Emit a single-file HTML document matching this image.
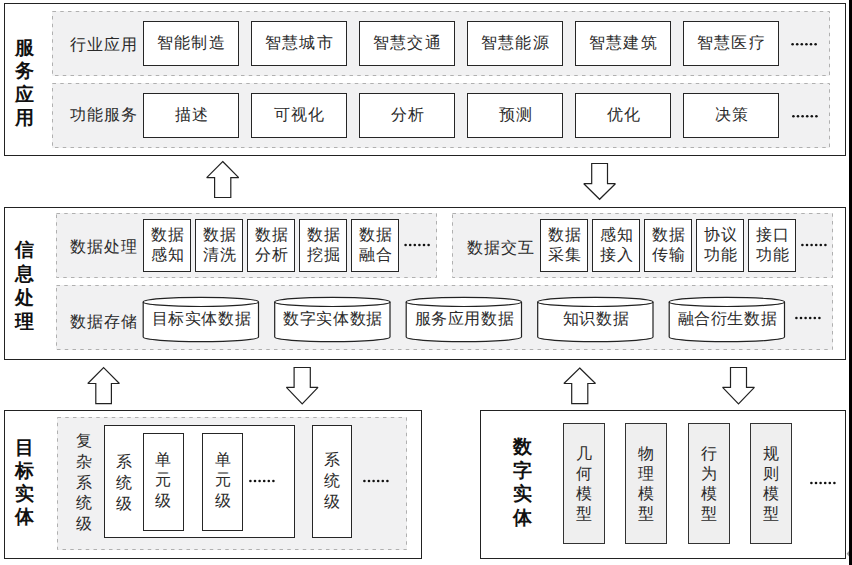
<!DOCTYPE html><html><head><meta charset="utf-8"><style>
*{margin:0;padding:0;box-sizing:border-box}
html,body{width:852px;height:565px;overflow:hidden;background:#fff}
body{position:relative;font-family:"Liberation Sans",sans-serif;color:#2a2a2a}
div{position:absolute}
.ob{border:1px solid #222;background:#fff}
.fill{background:#f1f1f2}
.wb{border:1px solid #262626;background:#fff}
.gb{border:1px solid #333;background:#efefef}
.t{display:flex;align-items:center;justify-content:center;font-size:16px;line-height:20px;text-align:center;white-space:nowrap;letter-spacing:1px;padding-left:1px}
.vc{font-size:16px;line-height:16px;text-align:center}
.lb{font-size:19px;line-height:19px;font-weight:bold;color:#111;text-align:center}
.dot{background:#111;border-radius:0.6px}
svg{position:absolute;left:0;top:0}
</style></head><body>
<div class="ob" style="left:4px;top:3px;width:842px;height:153px"></div>
<div class="fill" style="left:52px;top:11px;width:778px;height:65px"></div>
<div class="fill" style="left:52px;top:83px;width:778px;height:65px"></div>
<div class="wb" style="left:143px;top:21px;width:96px;height:45px"></div>
<div class="wb" style="left:143px;top:93px;width:96px;height:45px"></div>
<div class="wb" style="left:251px;top:21px;width:96px;height:45px"></div>
<div class="wb" style="left:251px;top:93px;width:96px;height:45px"></div>
<div class="wb" style="left:359px;top:21px;width:96px;height:45px"></div>
<div class="wb" style="left:359px;top:93px;width:96px;height:45px"></div>
<div class="wb" style="left:467px;top:21px;width:96px;height:45px"></div>
<div class="wb" style="left:467px;top:93px;width:96px;height:45px"></div>
<div class="wb" style="left:575px;top:21px;width:96px;height:45px"></div>
<div class="wb" style="left:575px;top:93px;width:96px;height:45px"></div>
<div class="wb" style="left:683px;top:21px;width:96px;height:45px"></div>
<div class="wb" style="left:683px;top:93px;width:96px;height:45px"></div>
<div class="ob" style="left:4px;top:207px;width:842px;height:153px"></div>
<div class="fill" style="left:56px;top:213px;width:381px;height:65px"></div>
<div class="fill" style="left:452px;top:213px;width:381px;height:65px"></div>
<div class="fill" style="left:56px;top:285px;width:777px;height:65px"></div>
<div class="wb" style="left:143px;top:219px;width:48px;height:53px"></div>
<div class="wb" style="left:195px;top:219px;width:48px;height:53px"></div>
<div class="wb" style="left:247px;top:219px;width:48px;height:53px"></div>
<div class="wb" style="left:299px;top:219px;width:48px;height:53px"></div>
<div class="wb" style="left:351px;top:219px;width:48px;height:53px"></div>
<div class="wb" style="left:540px;top:219px;width:48px;height:53px"></div>
<div class="wb" style="left:592px;top:219px;width:48px;height:53px"></div>
<div class="wb" style="left:644px;top:219px;width:48px;height:53px"></div>
<div class="wb" style="left:696px;top:219px;width:48px;height:53px"></div>
<div class="wb" style="left:748px;top:219px;width:48px;height:53px"></div>
<div class="ob" style="left:4px;top:410px;width:418px;height:149px"></div>
<div class="fill" style="left:57px;top:417px;width:350px;height:133px"></div>
<div class="wb" style="left:104px;top:425px;width:191px;height:113px"></div>
<div class="wb" style="left:143px;top:433px;width:41px;height:98px"></div>
<div class="wb" style="left:202px;top:433px;width:41px;height:98px"></div>
<div class="wb" style="left:312px;top:425px;width:40px;height:113px"></div>
<div class="ob" style="left:480px;top:410px;width:366px;height:149px"></div>
<div class="gb" style="left:563px;top:423px;width:42px;height:121px"></div>
<div class="gb" style="left:625px;top:423px;width:42px;height:121px"></div>
<div class="gb" style="left:688px;top:423px;width:42px;height:121px"></div>
<div class="gb" style="left:750px;top:423px;width:42px;height:121px"></div>
<div style="left:849px;top:0;width:3px;height:565px;background:#000"></div>
<svg width="852" height="565" viewBox="0 0 852 565"><rect x="52.5" y="11.5" width="777" height="64" fill="none" stroke="#b0b0b0" stroke-width="1" stroke-dasharray="3.5 4.25"/><rect x="52.5" y="83.5" width="777" height="64" fill="none" stroke="#b0b0b0" stroke-width="1" stroke-dasharray="3.5 4.25"/><circle cx="792.60" cy="44.20" r="1.3" fill="#111"/><circle cx="797.20" cy="44.20" r="1.3" fill="#111"/><circle cx="801.80" cy="44.20" r="1.3" fill="#111"/><circle cx="806.40" cy="44.20" r="1.3" fill="#111"/><circle cx="811.00" cy="44.20" r="1.3" fill="#111"/><circle cx="815.60" cy="44.20" r="1.3" fill="#111"/><circle cx="793.40" cy="116.20" r="1.3" fill="#111"/><circle cx="798.00" cy="116.20" r="1.3" fill="#111"/><circle cx="802.60" cy="116.20" r="1.3" fill="#111"/><circle cx="807.20" cy="116.20" r="1.3" fill="#111"/><circle cx="811.80" cy="116.20" r="1.3" fill="#111"/><circle cx="816.40" cy="116.20" r="1.3" fill="#111"/><rect x="56.5" y="213.5" width="380" height="64" fill="none" stroke="#b0b0b0" stroke-width="1" stroke-dasharray="3.5 4.25"/><rect x="452.5" y="213.5" width="380" height="64" fill="none" stroke="#b0b0b0" stroke-width="1" stroke-dasharray="3.5 4.25"/><rect x="56.5" y="285.5" width="776" height="64" fill="none" stroke="#b0b0b0" stroke-width="1" stroke-dasharray="3.5 4.25"/><circle cx="405.60" cy="245.00" r="1.3" fill="#111"/><circle cx="410.20" cy="245.00" r="1.3" fill="#111"/><circle cx="414.80" cy="245.00" r="1.3" fill="#111"/><circle cx="419.40" cy="245.00" r="1.3" fill="#111"/><circle cx="424.00" cy="245.00" r="1.3" fill="#111"/><circle cx="428.60" cy="245.00" r="1.3" fill="#111"/><circle cx="802.40" cy="245.00" r="1.3" fill="#111"/><circle cx="807.00" cy="245.00" r="1.3" fill="#111"/><circle cx="811.60" cy="245.00" r="1.3" fill="#111"/><circle cx="816.20" cy="245.00" r="1.3" fill="#111"/><circle cx="820.80" cy="245.00" r="1.3" fill="#111"/><circle cx="825.40" cy="245.00" r="1.3" fill="#111"/><circle cx="796.40" cy="318.00" r="1.3" fill="#111"/><circle cx="801.00" cy="318.00" r="1.3" fill="#111"/><circle cx="805.60" cy="318.00" r="1.3" fill="#111"/><circle cx="810.20" cy="318.00" r="1.3" fill="#111"/><circle cx="814.80" cy="318.00" r="1.3" fill="#111"/><circle cx="819.40" cy="318.00" r="1.3" fill="#111"/><rect x="57.5" y="417.5" width="349" height="132" fill="none" stroke="#b0b0b0" stroke-width="1" stroke-dasharray="3.5 4.25"/><circle cx="250.40" cy="481.00" r="1.3" fill="#111"/><circle cx="255.00" cy="481.00" r="1.3" fill="#111"/><circle cx="259.60" cy="481.00" r="1.3" fill="#111"/><circle cx="264.20" cy="481.00" r="1.3" fill="#111"/><circle cx="268.80" cy="481.00" r="1.3" fill="#111"/><circle cx="273.40" cy="481.00" r="1.3" fill="#111"/><circle cx="364.40" cy="481.00" r="1.3" fill="#111"/><circle cx="369.00" cy="481.00" r="1.3" fill="#111"/><circle cx="373.60" cy="481.00" r="1.3" fill="#111"/><circle cx="378.20" cy="481.00" r="1.3" fill="#111"/><circle cx="382.80" cy="481.00" r="1.3" fill="#111"/><circle cx="387.40" cy="481.00" r="1.3" fill="#111"/><circle cx="811.40" cy="483.00" r="1.3" fill="#111"/><circle cx="816.00" cy="483.00" r="1.3" fill="#111"/><circle cx="820.60" cy="483.00" r="1.3" fill="#111"/><circle cx="825.20" cy="483.00" r="1.3" fill="#111"/><circle cx="829.80" cy="483.00" r="1.3" fill="#111"/><circle cx="834.40" cy="483.00" r="1.3" fill="#111"/><polygon points="849,551 846.6,553.8 849,556.5" fill="#9a9a9a"/><polygon points="222.7,161.5 238.7,177.6 230.8,177.6 230.8,197.5 214.6,197.5 214.6,177.6 206.7,177.6" fill="#fff" stroke="#222" stroke-width="1.2" stroke-miterlimit="2"/><polygon points="591.7,163.5 607.5,163.5 607.5,183.7 615.4,183.7 599.6,199.3 583.8,183.7 591.7,183.7" fill="#fff" stroke="#222" stroke-width="1.2" stroke-miterlimit="2"/><polygon points="103.6,367.7 119.4,383.5 111.4,383.5 111.4,403.6 95.8,403.6 95.8,383.5 87.8,383.5" fill="#fff" stroke="#222" stroke-width="1.2" stroke-miterlimit="2"/><polygon points="294.1,367.5 310.3,367.5 310.3,387.4 318.0,387.4 302.2,403.9 286.4,387.4 294.1,387.4" fill="#fff" stroke="#222" stroke-width="1.2" stroke-miterlimit="2"/><polygon points="579.7,368.0 595.5,383.5 587.8,383.5 587.8,403.6 571.7,403.6 571.7,383.5 563.9,383.5" fill="#fff" stroke="#222" stroke-width="1.2" stroke-miterlimit="2"/><polygon points="730.5,367.5 746.5,367.5 746.5,387.4 754.4,387.4 738.5,403.9 722.6,387.4 730.5,387.4" fill="#fff" stroke="#222" stroke-width="1.2" stroke-miterlimit="2"/><path d="M143.2,301.9 L143.2,337.1 A57.65,4.6 0 0 0 258.5,337.1 L258.5,301.9 A57.65,4.6 0 0 0 143.2,301.9 Z" fill="#fff" stroke="#222" stroke-width="1.2"/><path d="M143.2,301.9 A57.65,4.6 0 0 0 258.5,301.9" fill="none" stroke="#222" stroke-width="1.2"/><path d="M274.7,301.9 L274.7,337.1 A57.65,4.6 0 0 0 390.0,337.1 L390.0,301.9 A57.65,4.6 0 0 0 274.7,301.9 Z" fill="#fff" stroke="#222" stroke-width="1.2"/><path d="M274.7,301.9 A57.65,4.6 0 0 0 390.0,301.9" fill="none" stroke="#222" stroke-width="1.2"/><path d="M406.2,301.9 L406.2,337.1 A57.65,4.6 0 0 0 521.5,337.1 L521.5,301.9 A57.65,4.6 0 0 0 406.2,301.9 Z" fill="#fff" stroke="#222" stroke-width="1.2"/><path d="M406.2,301.9 A57.65,4.6 0 0 0 521.5,301.9" fill="none" stroke="#222" stroke-width="1.2"/><path d="M537.7,301.9 L537.7,337.1 A57.65,4.6 0 0 0 653.0,337.1 L653.0,301.9 A57.65,4.6 0 0 0 537.7,301.9 Z" fill="#fff" stroke="#222" stroke-width="1.2"/><path d="M537.7,301.9 A57.65,4.6 0 0 0 653.0,301.9" fill="none" stroke="#222" stroke-width="1.2"/><path d="M669.2,301.9 L669.2,337.1 A57.65,4.6 0 0 0 784.5,337.1 L784.5,301.9 A57.65,4.6 0 0 0 669.2,301.9 Z" fill="#fff" stroke="#222" stroke-width="1.2"/><path d="M669.2,301.9 A57.65,4.6 0 0 0 784.5,301.9" fill="none" stroke="#222" stroke-width="1.2"/></svg>
<div class="lb" style="left:10.00px;top:38.10px;width:29px">服</div>
<div class="lb" style="left:10.00px;top:61.30px;width:29px">务</div>
<div class="lb" style="left:10.00px;top:84.50px;width:29px">应</div>
<div class="lb" style="left:10.00px;top:107.70px;width:29px">用</div>
<div class="t" style="left:66px;top:34px;width:74px;height:22px;">行业应用</div>
<div class="t" style="left:66.5px;top:104px;width:74px;height:22px;">功能服务</div>
<div class="t" style="left:143px;top:21px;width:96px;height:44px;letter-spacing:1.3px">智能制造</div>
<div class="t" style="left:143px;top:93px;width:96px;height:44px;">描述</div>
<div class="t" style="left:251px;top:21px;width:96px;height:44px;letter-spacing:1.3px">智慧城市</div>
<div class="t" style="left:251px;top:93px;width:96px;height:44px;">可视化</div>
<div class="t" style="left:359px;top:21px;width:96px;height:44px;letter-spacing:1.3px">智慧交通</div>
<div class="t" style="left:359px;top:93px;width:96px;height:44px;">分析</div>
<div class="t" style="left:467px;top:21px;width:96px;height:44px;letter-spacing:1.3px">智慧能源</div>
<div class="t" style="left:467px;top:93px;width:96px;height:44px;">预测</div>
<div class="t" style="left:575px;top:21px;width:96px;height:44px;letter-spacing:1.3px">智慧建筑</div>
<div class="t" style="left:575px;top:93px;width:96px;height:44px;">优化</div>
<div class="t" style="left:683px;top:21px;width:96px;height:44px;letter-spacing:1.3px">智慧医疗</div>
<div class="t" style="left:683px;top:93px;width:96px;height:44px;">决策</div>
<div class="lb" style="left:10.00px;top:240.10px;width:29px">信</div>
<div class="lb" style="left:10.00px;top:264.00px;width:29px">息</div>
<div class="lb" style="left:10.00px;top:287.90px;width:29px">处</div>
<div class="lb" style="left:10.00px;top:311.80px;width:29px">理</div>
<div class="t" style="left:66px;top:236px;width:74px;height:22px;">数据处理</div>
<div class="t" style="left:463.5px;top:236.5px;width:74px;height:22px;">数据交互</div>
<div class="t" style="left:143px;top:219px;width:48px;height:52px;">数据<br>感知</div>
<div class="t" style="left:195px;top:219px;width:48px;height:52px;">数据<br>清洗</div>
<div class="t" style="left:247px;top:219px;width:48px;height:52px;">数据<br>分析</div>
<div class="t" style="left:299px;top:219px;width:48px;height:52px;">数据<br>挖掘</div>
<div class="t" style="left:351px;top:219px;width:48px;height:52px;">数据<br>融合</div>
<div class="t" style="left:540px;top:219px;width:48px;height:52px;">数据<br>采集</div>
<div class="t" style="left:592px;top:219px;width:48px;height:52px;">感知<br>接入</div>
<div class="t" style="left:644px;top:219px;width:48px;height:52px;">数据<br>传输</div>
<div class="t" style="left:696px;top:219px;width:48px;height:52px;">协议<br>功能</div>
<div class="t" style="left:748px;top:219px;width:48px;height:52px;">接口<br>功能</div>
<div class="t" style="left:66px;top:311px;width:74px;height:22px;">数据存储</div>
<div class="t" style="left:143.0px;top:304.3px;width:116px;height:30px;letter-spacing:0.6px">目标实体数据</div>
<div class="t" style="left:274.5px;top:304.3px;width:116px;height:30px;letter-spacing:0.6px">数字实体数据</div>
<div class="t" style="left:406.0px;top:304.3px;width:116px;height:30px;letter-spacing:0.6px">服务应用数据</div>
<div class="t" style="left:537.5px;top:304.3px;width:116px;height:30px;letter-spacing:0.6px">知识数据</div>
<div class="t" style="left:669.0px;top:304.3px;width:116px;height:30px;letter-spacing:0.6px">融合衍生数据</div>
<div class="lb" style="left:10.30px;top:438.40px;width:29px">目</div>
<div class="lb" style="left:10.30px;top:461.40px;width:29px">标</div>
<div class="lb" style="left:10.30px;top:484.40px;width:29px">实</div>
<div class="lb" style="left:10.30px;top:507.40px;width:29px">体</div>
<div class="vc" style="left:71.00px;top:433.40px;width:26px">复</div>
<div class="vc" style="left:71.00px;top:454.00px;width:26px">杂</div>
<div class="vc" style="left:71.00px;top:474.60px;width:26px">系</div>
<div class="vc" style="left:71.00px;top:495.20px;width:26px">统</div>
<div class="vc" style="left:71.00px;top:515.80px;width:26px">级</div>
<div class="vc" style="left:110.60px;top:454.20px;width:26px">系</div>
<div class="vc" style="left:110.60px;top:475.00px;width:26px">统</div>
<div class="vc" style="left:110.60px;top:495.80px;width:26px">级</div>
<div class="vc" style="left:150.00px;top:451.60px;width:26px">单</div>
<div class="vc" style="left:150.00px;top:472.10px;width:26px">元</div>
<div class="vc" style="left:150.00px;top:492.60px;width:26px">级</div>
<div class="vc" style="left:209.50px;top:451.60px;width:26px">单</div>
<div class="vc" style="left:209.50px;top:472.10px;width:26px">元</div>
<div class="vc" style="left:209.50px;top:492.60px;width:26px">级</div>
<div class="vc" style="left:318.80px;top:452.20px;width:26px">系</div>
<div class="vc" style="left:318.80px;top:473.00px;width:26px">统</div>
<div class="vc" style="left:318.80px;top:493.80px;width:26px">级</div>
<div class="lb" style="left:508.10px;top:437.30px;width:29px">数</div>
<div class="lb" style="left:508.10px;top:460.70px;width:29px">字</div>
<div class="lb" style="left:508.10px;top:484.10px;width:29px">实</div>
<div class="lb" style="left:508.10px;top:507.50px;width:29px">体</div>
<div class="vc" style="left:571.00px;top:445.90px;width:26px">几</div>
<div class="vc" style="left:571.00px;top:465.90px;width:26px">何</div>
<div class="vc" style="left:571.00px;top:485.90px;width:26px">模</div>
<div class="vc" style="left:571.00px;top:505.90px;width:26px">型</div>
<div class="vc" style="left:633.00px;top:445.90px;width:26px">物</div>
<div class="vc" style="left:633.00px;top:465.90px;width:26px">理</div>
<div class="vc" style="left:633.00px;top:485.90px;width:26px">模</div>
<div class="vc" style="left:633.00px;top:505.90px;width:26px">型</div>
<div class="vc" style="left:696.00px;top:445.90px;width:26px">行</div>
<div class="vc" style="left:696.00px;top:465.90px;width:26px">为</div>
<div class="vc" style="left:696.00px;top:485.90px;width:26px">模</div>
<div class="vc" style="left:696.00px;top:505.90px;width:26px">型</div>
<div class="vc" style="left:758.00px;top:445.90px;width:26px">规</div>
<div class="vc" style="left:758.00px;top:465.90px;width:26px">则</div>
<div class="vc" style="left:758.00px;top:485.90px;width:26px">模</div>
<div class="vc" style="left:758.00px;top:505.90px;width:26px">型</div>
</body></html>
